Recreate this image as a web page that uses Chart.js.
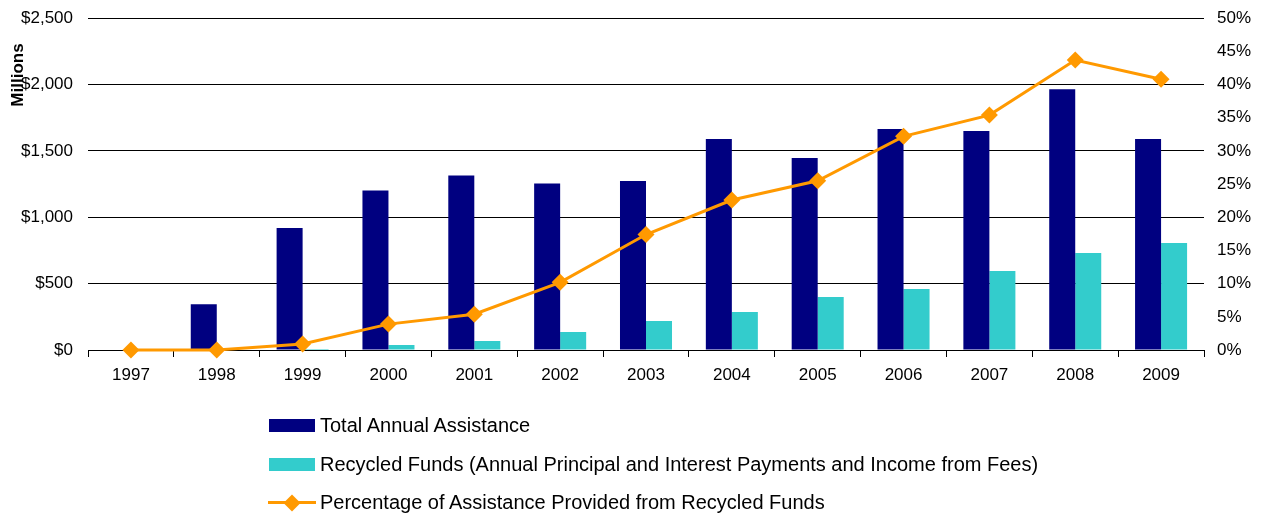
<!DOCTYPE html>
<html>
<head>
<meta charset="utf-8">
<script src="https://cdn.jsdelivr.net/npm/chart.js@4/dist/chart.umd.min.js"></script>
<style>
  html, body { margin: 0; padding: 0; background: #fff; overflow: hidden; }
  #wrap { position: relative; width: 1269px; height: 514px; overflow: hidden; }
  #c { position: absolute; left: 0; top: -7px; }
  .leg { position: absolute; left: 269px; font-family: "Liberation Sans", Arial, sans-serif; font-size: 20px; color: #000; height: 20px; line-height: 20px; white-space: nowrap; }
  .leg .sw { position: absolute; left: 0; top: 4px; width: 46px; height: 13px; }
  .leg .txt { position: absolute; left: 51px; top: 0; }
  .leg .ln { position: absolute; left: -1px; top: 9px; width: 48px; height: 3px; background: #FF9900; }
  .leg .dm { position: absolute; left: 17px; top: 4.5px; width: 12px; height: 12px; background: #FF9900; transform: rotate(45deg); }
</style>
</head>
<body>
<div id="wrap">
  <canvas id="c" width="1269" height="521"></canvas>
  <div class="leg" style="top:415px"><div class="sw" style="background:#000080"></div><div class="txt">Total Annual Assistance</div></div>
  <div class="leg" style="top:454px"><div class="sw" style="background:#33CCCC"></div><div class="txt">Recycled Funds (Annual Principal and Interest Payments and Income from Fees)</div></div>
  <div class="leg" style="top:492px"><div class="ln"></div><div class="dm"></div><div class="txt">Percentage of Assistance Provided from Recycled Funds</div></div>
</div>
<script>
const years = ['1997','1998','1999','2000','2001','2002','2003','2004','2005','2006','2007','2008','2009'];
const totalAssistance = [0, 345, 920, 1202, 1315, 1255, 1274, 1590, 1447, 1666, 1651, 1965, 1589];
const recycledFunds = [0, 0, 8, 38, 68, 136, 219, 286, 399, 460, 595, 730, 806];
const recycledPct = [0, 0, 0.9, 3.9, 5.4, 10.2, 17.4, 22.6, 25.5, 32.2, 35.4, 43.7, 40.8];
const leftTicks = [0, 500, 1000, 1500, 2000, 2500];
const rightTicks = [0, 5, 10, 15, 20, 25, 30, 35, 40, 45, 50];

const FONT = { family: '"Liberation Sans", Arial, sans-serif', size: 17 };

const millionsPlugin = {
  id: 'millions',
  afterDraw(chart) {
    const ctx = chart.ctx;
    ctx.save();
    ctx.translate(18, 82);
    ctx.rotate(-Math.PI / 2);
    ctx.font = 'bold 17px "Liberation Sans", Arial, sans-serif';
    ctx.fillStyle = '#000';
    ctx.textAlign = 'center';
    ctx.textBaseline = 'middle';
    ctx.fillText('Millions', 0, 0);
    ctx.restore();
  }
};

new Chart(document.getElementById('c'), {
  type: 'bar',
  data: {
    labels: years,
    datasets: [
      {
        type: 'line',
        label: 'Percentage of Assistance Provided from Recycled Funds',
        data: recycledPct,
        yAxisID: 'y1',
        borderColor: '#FF9900',
        backgroundColor: '#FF9900',
        borderWidth: 3,
        pointStyle: 'rectRot',
        pointRadius: 8.5,
        pointHoverRadius: 8.5,
        pointBorderWidth: 0,
        tension: 0,
        clip: false,
        order: 0
      },
      {
        label: 'Total Annual Assistance',
        data: totalAssistance,
        yAxisID: 'y',
        backgroundColor: '#000080',
        categoryPercentage: 0.606,
        barPercentage: 1,
        order: 1
      },
      {
        label: 'Recycled Funds (Annual Principal and Interest Payments and Income from Fees)',
        data: recycledFunds,
        yAxisID: 'y',
        backgroundColor: '#33CCCC',
        categoryPercentage: 0.606,
        barPercentage: 1,
        order: 1
      }
    ]
  },
  options: {
    responsive: false,
    animation: false,
    events: [],
    layout: { padding: { top: 3, bottom: 124, left: 0, right: 0 } },
    plugins: { legend: { display: false }, tooltip: { enabled: false } },
    scales: {
      x: {
        offset: true,
        grid: { offset: true, drawOnChartArea: false, drawTicks: true, tickLength: 7, color: '#000' },
        border: { color: '#000', width: 1 },
        ticks: { color: '#000', font: FONT, padding: 8, maxRotation: 0 },
        afterFit(s) { s.height = 40; }
      },
      y: {
        position: 'left',
        min: 0, max: 2500,
        afterBuildTicks(s) { s.ticks = leftTicks.map(v => ({ value: v })); },
        ticks: { color: '#000', font: FONT, padding: 15, callback: v => '$' + v.toLocaleString('en-US') },
        grid: { color: '#000', drawTicks: false, lineWidth: 1 },
        border: { display: false },
        afterFit(s) { s.width = 88; }
      },
      y1: {
        position: 'right',
        min: 0, max: 50,
        afterBuildTicks(s) { s.ticks = rightTicks.map(v => ({ value: v })); },
        ticks: { color: '#000', font: FONT, padding: 13, callback: v => v + '%' },
        grid: { drawOnChartArea: false, drawTicks: false },
        border: { display: false },
        afterFit(s) { s.width = 65; }
      }
    }
  },
  plugins: [millionsPlugin]
});
</script>
</body>
</html>
